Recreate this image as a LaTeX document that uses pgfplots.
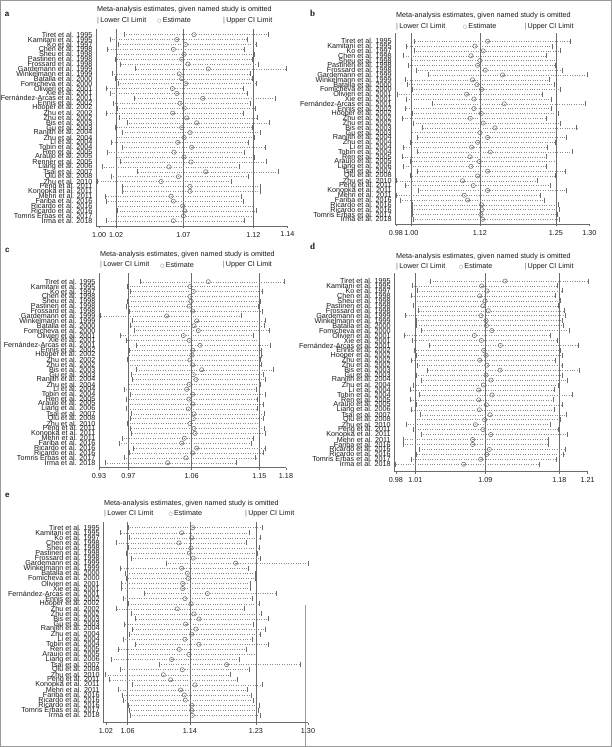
\documentclass[border=0pt]{standalone}
\usepackage{fontspec}
\setmainfont{Liberation Sans}
\newfontfamily\serifbf{Liberation Serif}
\newfontfamily\dejavu{DejaVu Sans}
\usepackage{pgfplots}
\pgfplotsset{compat=1.18}
\usepackage{pgfplotstable}
\definecolor{lg}{gray}{0.42}
\definecolor{dg}{gray}{0.55}
\definecolor{tx}{gray}{0.1}

\pgfplotstableread{
row lo est hi
1 1.0259 1.0776 1.1324
2 1.0156 1.0648 1.1169
3 1.0215 1.0712 1.1233
4 1.0134 1.0623 1.1145
5 1.0205 1.0702 1.1218
6 1.0193 1.0685 1.1206
7 1.0234 1.0731 1.1250
8 1.0343 1.0881 1.1455
9 1.0175 1.0667 1.1189
10 1.0193 1.0685 1.1206
11 1.0215 1.0714 1.1238
12 1.0126 1.0616 1.1140
13 1.0156 1.0648 1.1169
14 1.0333 1.0840 1.1376
15 1.0180 1.0672 1.1194
16 1.0210 1.0704 1.1228
17 1.0126 1.0618 1.1140
18 1.0225 1.0722 1.1245
19 1.0286 1.0795 1.1332
20 1.0193 1.0685 1.1206
21 1.0244 1.0746 1.1268
22 1.0205 1.0702 1.1218
23 1.0163 1.0655 1.1177
24 1.0249 1.0758 1.1300
25 1.0136 1.0628 1.1147
26 1.0205 1.0702 1.1218
27 1.0230 1.0754 1.1312
28 1.0102 1.0591 1.1110
29 1.0353 1.0862 1.1400
30 1.0168 1.0660 1.1179
31 1.0062 1.0532 1.1049
32 1.0249 1.0746 1.1268
33 1.0249 1.0746 1.1268
34 1.0119 1.0606 1.1127
35 1.0131 1.0623 1.1142
36 1.0200 1.0692 1.1214
37 1.0210 1.0707 1.1233
38 1.0200 1.0697 1.1214
39 1.0131 1.0623 1.1147
}\tabA

\pgfplotstableread{
row lo est hi
1 1.0081 1.1333 1.2745
2 0.9950 1.1117 1.2443
3 1.0081 1.1259 1.2574
4 0.9893 1.1049 1.2341
5 1.0030 1.1202 1.2511
6 0.9984 1.1163 1.2489
7 1.0110 1.1293 1.2614
8 1.0315 1.1589 1.3041
9 0.9928 1.1077 1.2386
10 0.9967 1.1151 1.2472
11 1.0041 1.1231 1.2568
12 0.9797 1.0975 1.2272
13 0.9939 1.1100 1.2415
14 1.0383 1.1618 1.3001
15 0.9928 1.1100 1.2420
16 1.0041 1.1225 1.2546
17 0.9882 1.1037 1.2341
18 1.0064 1.1259 1.2568
19 1.0224 1.1459 1.2853
20 1.0030 1.1202 1.2511
21 1.0127 1.1333 1.2671
22 1.0013 1.1163 1.2489
23 0.9893 1.1060 1.2358
24 1.0138 1.1379 1.2785
25 0.9882 1.1032 1.2329
26 1.0019 1.1191 1.2500
27 0.9893 1.1049 1.2341
28 1.0138 1.1333 1.2659
29 1.0007 1.1163 1.2489
30 0.9768 1.0906 1.2187
31 0.9928 1.1089 1.2403
32 1.0144 1.1333 1.2671
33 0.9780 1.0935 1.2233
34 0.9836 1.0992 1.2301
35 1.0053 1.1231 1.2546
36 1.0053 1.1237 1.2557
37 1.0041 1.1219 1.2529
38 1.0064 1.1248 1.2557
}\tabB

\pgfplotstableread{
row lo est hi
1 0.9846 1.0816 1.1891
2 0.9671 1.0556 1.1541
3 0.9704 1.0603 1.1588
4 0.9680 1.0556 1.1541
5 0.9671 1.0570 1.1550
6 0.9647 1.0546 1.1531
7 0.9694 1.0594 1.1588
8 0.9278 1.0224 1.1290
9 0.9742 1.0651 1.1631
10 0.9713 1.0613 1.1607
11 0.9760 1.0674 1.1683
12 0.9571 1.0461 1.1456
13 0.9656 1.0546 1.1536
14 0.9789 1.0698 1.1702
15 0.9694 1.0594 1.1574
16 0.9680 1.0584 1.1574
17 0.9671 1.0556 1.1550
18 0.9680 1.0594 1.1574
19 0.9789 1.0722 1.1740
20 0.9727 1.0603 1.1598
21 0.9742 1.0641 1.1626
22 0.9680 1.0546 1.1550
23 0.9623 1.0509 1.1493
24 0.9704 1.0594 1.1621
25 0.9647 1.0542 1.1517
26 0.9680 1.0594 1.1598
27 0.9647 1.0532 1.1517
28 0.9727 1.0613 1.1612
29 0.9704 1.0603 1.1598
30 0.9666 1.0556 1.1541
31 0.9713 1.0613 1.1612
32 0.9727 1.0627 1.1621
33 0.9590 1.0475 1.1456
34 0.9547 1.0438 1.1422
35 0.9751 1.0651 1.1631
36 0.9694 1.0594 1.1598
37 0.9623 1.0499 1.1489
38 0.9358 1.0239 1.1219
}\tabC

\pgfplotstableread{
row lo est hi
1 1.0293 1.1179 1.2159
2 1.0089 1.0903 1.1801
3 1.0140 1.0966 1.1852
4 1.0073 1.0880 1.1774
5 1.0120 1.0943 1.1829
6 1.0096 1.0919 1.1813
7 1.0159 1.0982 1.1880
8 0.9998 1.0896 1.1892
9 1.0128 1.0955 1.1860
10 1.0128 1.0959 1.1868
11 1.0187 1.1022 1.1939
12 0.9994 1.0817 1.1714
13 1.0081 1.0900 1.1793
14 1.0285 1.1124 1.2045
15 1.0108 1.0927 1.1829
16 1.0128 1.0955 1.1852
17 1.0073 1.0880 1.1774
18 1.0148 1.0966 1.1860
19 1.0266 1.1120 1.2057
20 1.0128 1.0955 1.1852
21 1.0187 1.1014 1.1919
22 1.0096 1.0923 1.1813
23 1.0057 1.0868 1.1762
24 1.0167 1.1026 1.1970
25 1.0057 1.0868 1.1754
26 1.0128 1.0959 1.1860
27 1.0069 1.0876 1.1762
28 1.0179 1.1002 1.1900
29 1.0120 1.0939 1.1829
30 1.0010 1.0829 1.1714
31 1.0096 1.0919 1.1813
32 1.0187 1.1010 1.1915
33 0.9978 1.0797 1.1691
34 0.9978 1.0797 1.1691
35 1.0167 1.0994 1.1892
36 1.0128 1.0963 1.1872
37 1.0073 1.0892 1.1781
38 0.9884 1.0691 1.1585
}\tabD

\pgfplotstableread{
row lo est hi
1 1.0589 1.1461 1.2406
2 1.0485 1.1312 1.2229
3 1.0603 1.1448 1.2374
4 1.0431 1.1276 1.2184
5 1.0589 1.1439 1.2360
6 1.0566 1.1416 1.2338
7 1.0634 1.1470 1.2383
8 1.1109 1.2044 1.3029
9 1.0485 1.1312 1.2216
10 1.0544 1.1389 1.2306
11 1.0557 1.1402 1.2315
12 1.0499 1.1326 1.2247
13 1.0499 1.1326 1.2247
14 1.0801 1.1660 1.2600
15 1.0521 1.1357 1.2270
16 1.0589 1.1439 1.2365
17 1.0422 1.1253 1.2162
18 1.0634 1.1479 1.2397
19 1.0679 1.1547 1.2487
20 1.0530 1.1366 1.2284
21 1.0648 1.1506 1.2442
22 1.0603 1.1448 1.2374
23 1.0521 1.1357 1.2270
24 1.0679 1.1547 1.2487
25 1.0453 1.1280 1.2184
26 1.0575 1.1411 1.2320
27 1.0354 1.1176 1.2094
28 1.1009 1.1922 1.2916
29 1.0485 1.1321 1.2229
30 1.0273 1.1064 1.1967
31 1.0331 1.1163 1.2067
32 1.0648 1.1493 1.2406
33 1.0453 1.1298 1.2207
34 1.0508 1.1348 1.2261
35 1.0521 1.1362 1.2284
36 1.0589 1.1448 1.2365
37 1.0598 1.1448 1.2356
38 1.0612 1.1457 1.2374
}\tabE

\pgfplotsset{
  meta/.style={
    scale only axis, anchor=north west, clip=false,
    y dir=reverse,
    axis x line*=bottom, axis y line*=left,
    axis line style={draw=lg, line width=0.55pt},
    tick align=outside, major tick length=2.5pt,
    xtick style={draw=lg, line width=0.55pt},
    ytick style={draw=none},
    tick label style={font=\fontsize{7.2}{7.2}\selectfont, text=tx},
    yticklabel style={inner sep=1pt},
    /pgf/number format/assume math mode=true,
  },
  labsA/.style={ytick={1,...,39}, yticklabels={Tiret et al. 1995, Kamitani et al. 1995, Ko et al. 1997, Chen et al. 1998, Sheu et al. 1998, Pastinen et al. 1998, Frossard et al. 1998, Gardemann et al. 1999, Winkelmann et al. 1999, Batalla et al. 2000, Fomicheva et al. 2000, Olivieri et al. 2001, Xie et al. 2001, Fernández-Arcas et al. 2001, Ennis et al. 2002, Hooper et al. 2002, Zhu et al. 2002, Zhu et al. 2002, Bis et al. 2003, Gu et al. 2003, Ranjith et al. 2004, Zhu et al. 2004, Li et al. 2004, Tobin et al. 2004, Ren et al. 2005, Araujo et al. 2005, Renner et al. 2005, Liang et al. 2006, Tsai et al. 2007, Qiu et al. 2008, Zhu et al. 2010, Peng et al. 2011, Konopka et al. 2011, Mehri et al. 2011, Fariba et al. 2016, Ricardo et al. 2016, Ricardo et al. 2016, Tomris Erbas et al. 2017, Irma et al. 2018}},
  labsB/.style={ytick={1,...,38}, yticklabels={Tiret et al. 1995, Kamitani et al. 1995, Ko et al. 1997, Chen et al. 1998, Sheu et al. 1998, Pastinen et al. 1998, Frossard et al. 1998, Gardemann et al. 1999, Winkelmann et al. 1999, Batalla et al. 2000, Fomicheva et al. 2000, Olivieri et al. 2001, Xie et al. 2001, Fernández-Arcas et al. 2001, Ennis et al. 2002, Hooper et al. 2002, Zhu et al. 2002, Zhu et al. 2002, Bis et al. 2003, Gu et al. 2003, Ranjith et al. 2004, Zhu et al. 2004, Li et al. 2004, Tobin et al. 2004, Ren et al. 2005, Araujo et al. 2005, Liang et al. 2006, Tsai et al. 2007, Qiu et al. 2008, Zhu et al. 2010, Peng et al. 2011, Konopka et al. 2011, Mehri et al. 2011, Fariba et al. 2016, Ricardo et al. 2016, Ricardo et al. 2016, Tomris Erbas et al. 2017, Irma et al. 2018}},
  cimark/.style={only marks, mark=|, mark size=2.5pt, mark options={draw=lg, line width=0.55pt}},
  estplot/.style={only marks, mark=o, mark size=2.1pt, mark options={draw=lg, fill=white, line width=0.55pt},
    error bars/.cd, x dir=both, x explicit, error mark=none,
    error bar style={draw=dg, dotted, line width=0.4pt}},
  refline/.style={draw=lg, line width=0.65pt, no marks},
}

\newcommand\panel[4]{%
  \addplot[refline] coordinates {(#2,\ylo) (#2,\yhi)};
  \addplot[refline] coordinates {(#3,\ylo) (#3,\yhi)};
  \addplot[refline] coordinates {(#4,\ylo) (#4,\yhi)};
  \addplot[estplot] table[x=est, y=row, x error plus expr=\thisrow{hi}-\thisrow{est}, x error minus expr=\thisrow{est}-\thisrow{lo}]{#1};
  \addplot[cimark] table[x=lo,y=row]{#1};
  \addplot[cimark] table[x=hi,y=row]{#1};
}

\newcommand\heading[6]{%
  \node[anchor=west, inner sep=0, font=\fontsize{7.2}{8}\selectfont, text=tx] at (#1pt,#2pt) {Meta-analysis estimates, given named study is omitted};
  \node[anchor=west, inner sep=0, font=\fontsize{7.2}{8}\selectfont, text=tx] at (#4pt,#3pt) {\textcolor{lg}{|}\,Lower CI Limit};
  \node[anchor=west, inner sep=0, font=\fontsize{7.2}{8}\selectfont, text=tx] at (#5pt,#3pt) {\textcolor{lg}{\dejavu\fontsize{5}{5}\selectfont ○}\,Estimate};
  \node[anchor=west, inner sep=0, font=\fontsize{7.2}{8}\selectfont, text=tx] at (#6pt,#3pt) {\textcolor{lg}{|}\,Upper CI Limit};
}

\begin{document}
\begin{tikzpicture}
\path[use as bounding box] (0pt,0pt) rectangle (612pt,747pt);
\draw[black!40, line width=0.8pt] (0.6pt,0.6pt) rectangle (611.4pt,746.4pt);
\draw[black!40, line width=0.6pt] (305.5pt,0pt) -- (305.5pt,142pt);

% panel a
\heading{97}{737}{726.3}{97}{157}{223}
\node[font=\bfseries\fontsize{8}{8}\selectfont, text=tx] at (7pt,733pt) {a};
\def\ylo{-0.16}\def\yhi{40.08}
\begin{axis}[meta, labsA, at={(96pt,718pt)}, width=191.3pt, height=197pt,
  xmin=1.0052, xmax=1.1464, ymin=-0.16, ymax=40.08,
  xtick={1.0075,1.020,1.0697,1.1214,1.1464}, xticklabels={1.00,1.02,1.07,1.12,1.14}]
\panel{\tabA}{1.020}{1.0697}{1.1214}
\end{axis}

% panel b
\heading{396}{731}{720.3}{396}{462.7}{524.3}
\node[font=\serifbf\bfseries\fontsize{9}{9}\selectfont, text=tx] at (312.7pt,733.7pt) {b};
\def\ylo{-0.66}\def\yhi{38.98}
\begin{axis}[meta, labsB, at={(395.3pt,713.7pt)}, width=194pt, height=190.7pt,
  xmin=0.9757, xmax=1.307, ymin=-0.66, ymax=38.98,
  xtick={0.9768,1.003,1.1202,1.250,1.307}, xticklabels={0.98,1.00,1.12,1.25,1.30}]
\panel{\tabB}{1.003}{1.1202}{1.250}
\end{axis}

% panel c
\heading{100}{492}{482}{100}{160}{222.7}
\node[font=\bfseries\fontsize{8}{8}\selectfont, text=tx] at (7.3pt,497pt) {c};
\def\ylo{-0.72}\def\yhi{39.02}
\begin{axis}[meta, labsB, at={(99pt,473.7pt)}, width=187pt, height=194.4pt,
  xmin=0.9263, xmax=1.1920, ymin=-0.72, ymax=39.02,
  xtick={0.9263,0.968,1.058,1.1541,1.1920}, xticklabels={0.93,0.97,1.06,1.15,1.18}]
\panel{\tabC}{0.968}{1.058}{1.1541}
\end{axis}

% panel d
\heading{396}{490.3}{480.3}{396}{458.7}{524.3}
\node[font=\serifbf\bfseries\fontsize{9}{9}\selectfont, text=tx] at (312.7pt,500.3pt) {d};
\def\ylo{-0.56}\def\yhi{39.5}
\begin{axis}[meta, labsB, at={(394.3pt,473.7pt)}, width=193.4pt, height=198.4pt,
  xmin=0.9872, xmax=1.2155, ymin=-0.56, ymax=39.5,
  xtick={0.9892,1.012,1.0947,1.182,1.2155}, xticklabels={0.98,1.01,1.09,1.18,1.21}]
\panel{\tabD}{1.012}{1.0947}{1.182}
\end{axis}

% panel e
\heading{104}{243.7}{233.7}{104}{168.3}{245}
\node[font=\bfseries\fontsize{8}{8}\selectfont, text=tx] at (7.3pt,252pt) {e};
\def\ylo{-0.18}\def\yhi{39.46}
\begin{axis}[meta, labsB, at={(103.3pt,225.3pt)}, width=204.7pt, height=201pt,
  xmin=1.025, xmax=1.3025, ymin=-0.18, ymax=39.46,
  xtick={1.0286,1.058,1.1425,1.232,1.3025}, xticklabels={1.02,1.06,1.14,1.23,1.30}]
\panel{\tabE}{1.058}{1.1425}{1.232}
\end{axis}
\end{tikzpicture}
\end{document}
